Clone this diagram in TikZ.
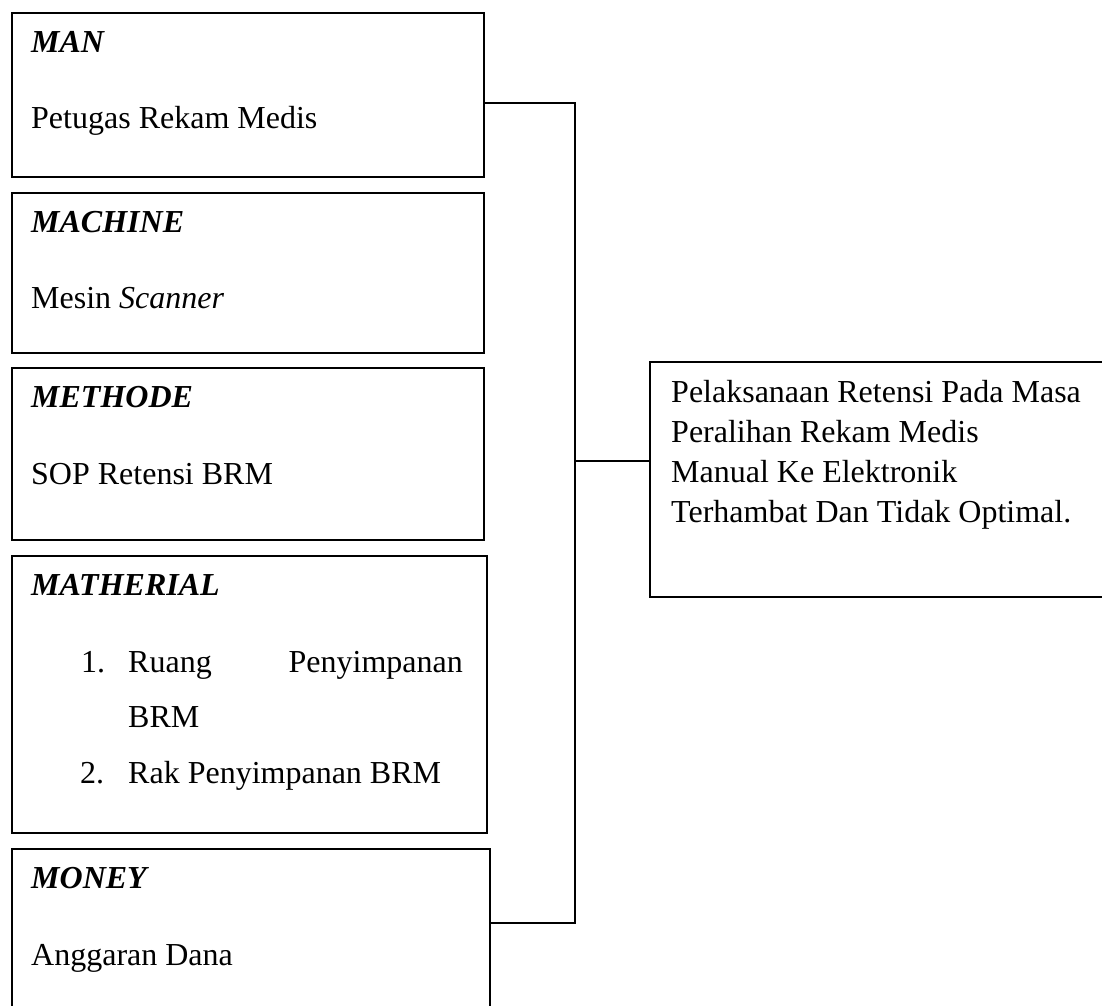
\documentclass[tikz,border=0pt]{standalone}
\usepackage{fontspec}
\setmainfont{Liberation Serif}
\begin{document}
\begin{tikzpicture}[x=1pt,y=-1pt,
  box/.style={draw=black, line width=2.2pt, rectangle, inner sep=0pt, anchor=north west},
  txt/.style={inner sep=0pt, anchor=base west, font=\fontsize{32}{40}\selectfont},
  hdr/.style={txt, font=\fontsize{32}{40}\selectfont\bfseries\itshape},
  link/.style={draw=black, line width=2.2pt}]
\clip (0,0) rectangle (1102,1005);
\fill[white] (0,0) rectangle (1102,1005);
% left boxes
\node[box, minimum width=472, minimum height=164] (b1) at (11,12) {};
\node[box, minimum width=472, minimum height=160] (b2) at (11,192) {};
\node[box, minimum width=472, minimum height=172] (b3) at (11,367) {};
\node[box, minimum width=475, minimum height=277] (b4) at (11,555) {};
\node[box, minimum width=478, minimum height=190] (b5) at (11,848) {};
% right box
\node[box, minimum width=490, minimum height=235] (r) at (649,361) {};
% texts
\node[hdr] (t1h) at (31,52) {MAN};
\node[txt] (t1b) at (31,128) {Petugas Rekam Medis};
\node[hdr] (t2h) at (31,232) {MACHINE};
\node[txt] (t2b) at (31,308) {Mesin \textit{Scanner}};
\node[hdr] (t3h) at (31,407) {METHODE};
\node[txt] (t3b) at (31,484) {SOP Retensi BRM};
\node[hdr] (t4h) at (31,595) {MATHERIAL};
\node[txt] (n1) at (81,672) {1.};
\node[txt] (l1a) at (128,672) {Ruang};
\node[txt, anchor=base east] (l1b) at (463,672) {Penyimpanan};
\node[txt] (l1c) at (128,727) {BRM};
\node[txt] (n2) at (80,783) {2.};
\node[txt] (l2) at (128,783) {Rak Penyimpanan BRM};
\node[hdr] (t5h) at (31,888) {MONEY};
\node[txt] (t5b) at (31,965) {Anggaran Dana};
\node[txt] (r1) at (671,402) {Pelaksanaan Retensi Pada Masa};
\node[txt] (r2) at (671,442) {Peralihan Rekam Medis};
\node[txt] (r3) at (671,482) {Manual Ke Elektronik};
\node[txt] (r4) at (671,522) {Terhambat Dan Tidak Optimal.};
% connectors
\coordinate (j1) at (575,103);
\coordinate (j2) at (575,923);
\coordinate (jm) at (575,461);
\draw[link] (b1.east |- j1) -- (j1) -- (j2) -- (b5.east |- j2);
\draw[link] (jm) -- (r.west |- jm);
\end{tikzpicture}
\end{document}
